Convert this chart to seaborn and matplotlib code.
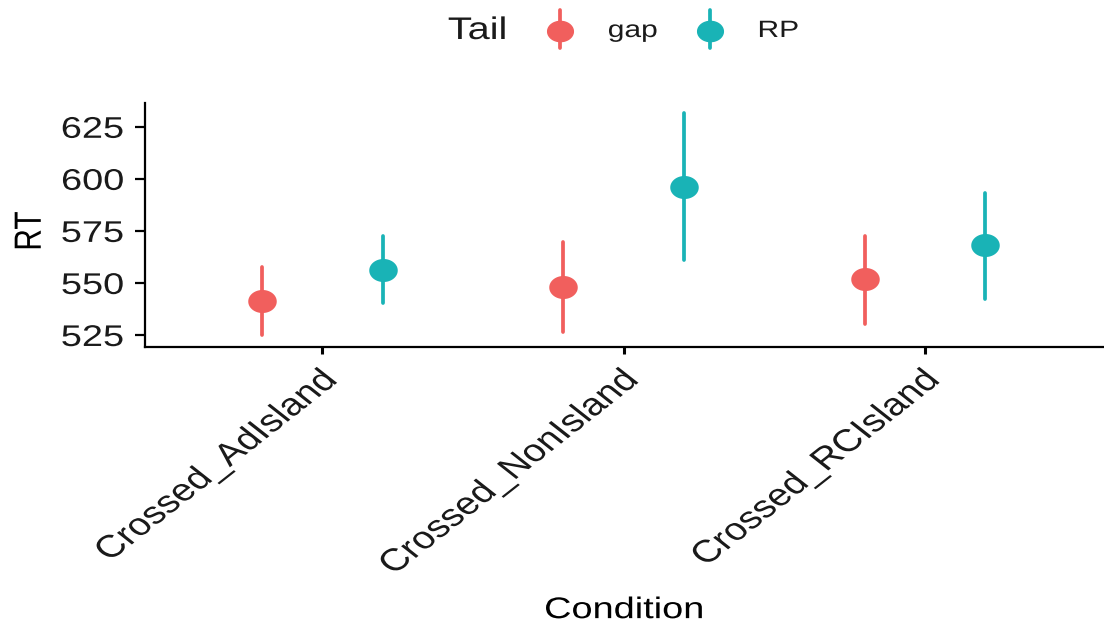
import numpy as np
import pandas as pd
import matplotlib
matplotlib.use("Agg")
import matplotlib.pyplot as plt
from matplotlib.lines import Line2D
from matplotlib.path import Path
from matplotlib.transforms import Affine2D
from matplotlib.patheffects import AbstractPathEffect
import seaborn as sns

conditions = ["Crossed_AdIsland", "Crossed_NonIsland", "Crossed_RCIsland"]
tails = ["gap", "RP"]
gap_mean = [541.5, 548.2, 551.9]
gap_lo = [525.0, 526.6, 530.3]
gap_hi = [557.7, 569.9, 572.6]
rp_mean = [556.3, 596.3, 568.3]
rp_lo = [540.4, 561.0, 542.2]
rp_hi = [572.6, 631.5, 593.4]
colors = {"gap": "#F15F5D", "RP": "#19B3B6"}

SX = 1.27  # horizontal stretch of the reference rendering


class HStretch(AbstractPathEffect):
    """Stretch text horizontally (in display space) about a pivot on its baseline."""
    def __init__(self, sx=SX, frac=0.0):
        super().__init__()
        self.sx = sx
        self.frac = frac

    def draw_path(self, renderer, gc, tpath, affine, rgbFace=None):
        ext = tpath.get_extents()
        px = ext.x0 + self.frac * (ext.x1 - ext.x0)
        x0, y0 = affine.transform((px, 0))
        new = affine + Affine2D().translate(-x0, -y0).scale(self.sx, 1).translate(x0, y0)
        renderer.draw_path(gc, tpath, new, rgbFace)


# elliptical marker (the reference is horizontally stretched)
theta = np.linspace(0, 2 * np.pi, 60)
ellipse = Path(np.column_stack([SX * np.cos(theta), np.sin(theta)]), closed=True)

rows = []
for tail, m, lo, hi in [("gap", gap_mean, gap_lo, gap_hi), ("RP", rp_mean, rp_lo, rp_hi)]:
    for c, mv, lv, hv in zip(conditions, m, lo, hi):
        for v in (lv, mv, hv):
            rows.append({"Condition": c, "Tail": tail, "RT": v})
df = pd.DataFrame(rows)

sns.set_theme(style="white")
plt.rcParams["font.family"] = ["Liberation Sans", "DejaVu Sans"]

fig = plt.figure(figsize=(11.04, 6.31), dpi=100)
ax = fig.add_axes([0.131, 0.450, 0.869, 0.387])

sns.pointplot(data=df, x="Condition", y="RT", hue="Tail", order=conditions,
              hue_order=tails, palette=colors, estimator="median",
              errorbar=("pi", 100), dodge=0.4, linestyle="none",
              markers=[ellipse, ellipse], markersize=18.5,
              err_kws={"linewidth": 2.7}, legend=False, ax=ax)

ax.set_xlim(-0.59, 2.595)
ax.set_ylim(519.2, 636.5)
ax.set_yticks([525, 550, 575, 600, 625])
for s in ["top", "right"]:
    ax.spines[s].set_visible(False)
for s in ["left", "bottom"]:
    ax.spines[s].set_color("black")
    ax.spines[s].set_linewidth(1.6)
ax.tick_params(axis="y", direction="out", length=7, width=1.6, color="black",
               labelsize=21.5, labelcolor="#1a1a1a", left=True, pad=8)
ax.tick_params(axis="x", direction="out", length=5, width=2.2, color="black",
               labelsize=22.5, labelcolor="#1a1a1a", bottom=True, pad=8)
for lab in ax.get_yticklabels():
    lab.set_path_effects([HStretch(frac=1.0)])
for lab in ax.get_xticklabels():
    lab.set_rotation(45)
    lab.set_ha("right")
    lab.set_va("top")
    lab.set_rotation_mode("anchor")
    lab.set_path_effects([HStretch(frac=1.0)])

ax.set_xlabel("Condition", fontsize=21.5, color="black")
ax.xaxis.set_label_coords(0.5, -1.02)
ax.xaxis.label.set_path_effects([HStretch(frac=0.5)])
ax.set_ylabel("RT", fontsize=21.5, color="black")
ax.yaxis.set_label_coords(-0.102, 0.475)
ax.yaxis.label.set_path_effects([HStretch(frac=0.5)])

# legend drawn at the top, ggplot style
W, H = 1104.0, 631.0
ly = 1 - 31 / H
fig.text(448 / W, ly, "Tail", fontsize=22.5, ha="left", va="center", color="#1a1a1a",
         path_effects=[HStretch(frac=0.0)])
for t, mx, tx in [("gap", 560, 608), ("RP", 710, 758)]:
    fig.add_artist(Line2D([mx / W, mx / W], [1 - 10 / H, 1 - 48 / H], transform=fig.transFigure,
                          color=colors[t], linewidth=2.7))
    fig.add_artist(Line2D([mx / W], [ly], transform=fig.transFigure, marker=ellipse,
                          markersize=18.5, color=colors[t], linestyle="none"))
    fig.text(tx / W, ly, t, fontsize=17, ha="left", va="center", color="#1a1a1a",
             path_effects=[HStretch(frac=0.0)])

fig.savefig("out.png", dpi=100)
